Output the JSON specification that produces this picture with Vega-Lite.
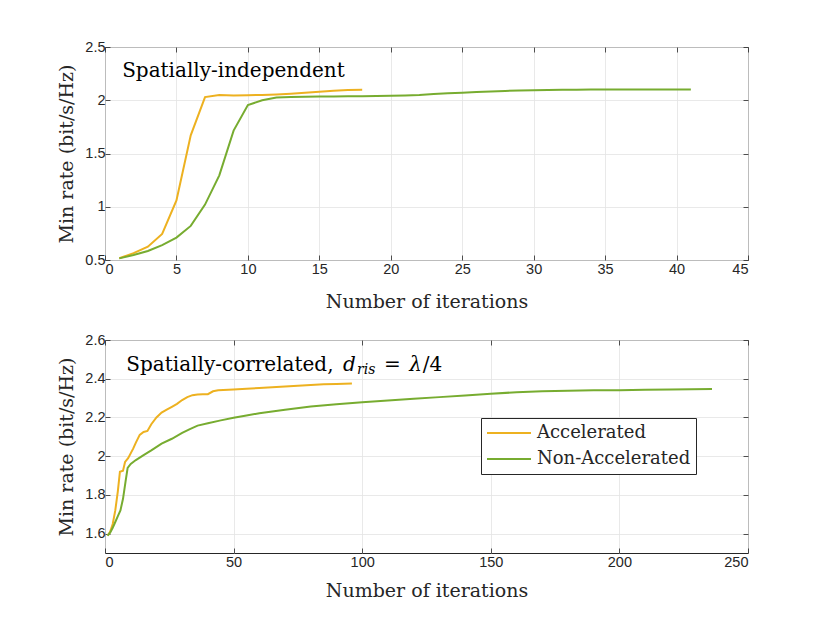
{
  "$schema": "https://vega.github.io/schema/vega-lite/v6.json",
  "background": "white",
  "padding": {"left": 57, "top": 38, "right": 10, "bottom": 10},
  "spacing": 19,
  "config": {
    "view": {"stroke": "#262626", "strokeWidth": 1},
    "axis": {
      "labelFont": "Liberation Sans", "labelFontSize": 14.5, "labelColor": "#262626",
      "labelExpr": "'' + datum.value",
      "titleFont": "DejaVu Serif", "titleFontSize": 19, "titleFontWeight": "normal", "titleColor": "#262626",
      "gridColor": "#e3e3e3", "gridWidth": 0.8, "domain": false,
      "ticks": true, "tickSize": -5, "tickColor": "#262626", "tickWidth": 0.8
    },
    "legend": {
      "labelFont": "DejaVu Serif", "labelFontSize": 18, "labelColor": "#262626"
    }
  },
  "datasets": {
    "top": [
      {"it": 1, "rate": 0.516, "method": "Accelerated"},
      {"it": 2, "rate": 0.565, "method": "Accelerated"},
      {"it": 3, "rate": 0.625, "method": "Accelerated"},
      {"it": 4, "rate": 0.745, "method": "Accelerated"},
      {"it": 5, "rate": 1.06, "method": "Accelerated"},
      {"it": 6, "rate": 1.67, "method": "Accelerated"},
      {"it": 7, "rate": 2.03, "method": "Accelerated"},
      {"it": 8, "rate": 2.05, "method": "Accelerated"},
      {"it": 9, "rate": 2.045, "method": "Accelerated"},
      {"it": 10, "rate": 2.047, "method": "Accelerated"},
      {"it": 11, "rate": 2.05, "method": "Accelerated"},
      {"it": 12, "rate": 2.055, "method": "Accelerated"},
      {"it": 13, "rate": 2.062, "method": "Accelerated"},
      {"it": 14, "rate": 2.07, "method": "Accelerated"},
      {"it": 15, "rate": 2.08, "method": "Accelerated"},
      {"it": 16, "rate": 2.09, "method": "Accelerated"},
      {"it": 17, "rate": 2.097, "method": "Accelerated"},
      {"it": 18, "rate": 2.098, "method": "Accelerated"},
      {"it": 1, "rate": 0.515, "method": "Non-Accelerated"},
      {"it": 2, "rate": 0.547, "method": "Non-Accelerated"},
      {"it": 3, "rate": 0.585, "method": "Non-Accelerated"},
      {"it": 4, "rate": 0.64, "method": "Non-Accelerated"},
      {"it": 5, "rate": 0.71, "method": "Non-Accelerated"},
      {"it": 6, "rate": 0.82, "method": "Non-Accelerated"},
      {"it": 7, "rate": 1.02, "method": "Non-Accelerated"},
      {"it": 8, "rate": 1.295, "method": "Non-Accelerated"},
      {"it": 9, "rate": 1.715, "method": "Non-Accelerated"},
      {"it": 10, "rate": 1.955, "method": "Non-Accelerated"},
      {"it": 11, "rate": 2.0, "method": "Non-Accelerated"},
      {"it": 12, "rate": 2.025, "method": "Non-Accelerated"},
      {"it": 13, "rate": 2.03, "method": "Non-Accelerated"},
      {"it": 14, "rate": 2.033, "method": "Non-Accelerated"},
      {"it": 15, "rate": 2.035, "method": "Non-Accelerated"},
      {"it": 16, "rate": 2.036, "method": "Non-Accelerated"},
      {"it": 17, "rate": 2.037, "method": "Non-Accelerated"},
      {"it": 18, "rate": 2.038, "method": "Non-Accelerated"},
      {"it": 19, "rate": 2.04, "method": "Non-Accelerated"},
      {"it": 20, "rate": 2.042, "method": "Non-Accelerated"},
      {"it": 21, "rate": 2.045, "method": "Non-Accelerated"},
      {"it": 22, "rate": 2.05, "method": "Non-Accelerated"},
      {"it": 23, "rate": 2.058, "method": "Non-Accelerated"},
      {"it": 24, "rate": 2.065, "method": "Non-Accelerated"},
      {"it": 25, "rate": 2.07, "method": "Non-Accelerated"},
      {"it": 26, "rate": 2.077, "method": "Non-Accelerated"},
      {"it": 27, "rate": 2.083, "method": "Non-Accelerated"},
      {"it": 28, "rate": 2.088, "method": "Non-Accelerated"},
      {"it": 29, "rate": 2.092, "method": "Non-Accelerated"},
      {"it": 30, "rate": 2.095, "method": "Non-Accelerated"},
      {"it": 31, "rate": 2.097, "method": "Non-Accelerated"},
      {"it": 32, "rate": 2.098, "method": "Non-Accelerated"},
      {"it": 33, "rate": 2.099, "method": "Non-Accelerated"},
      {"it": 34, "rate": 2.1, "method": "Non-Accelerated"},
      {"it": 35, "rate": 2.1, "method": "Non-Accelerated"},
      {"it": 36, "rate": 2.1, "method": "Non-Accelerated"},
      {"it": 37, "rate": 2.1, "method": "Non-Accelerated"},
      {"it": 38, "rate": 2.1, "method": "Non-Accelerated"},
      {"it": 39, "rate": 2.1, "method": "Non-Accelerated"},
      {"it": 40, "rate": 2.1, "method": "Non-Accelerated"},
      {"it": 41, "rate": 2.1, "method": "Non-Accelerated"}
    ],
    "bottom": [
      {"it": 1, "rate": 1.59, "method": "Accelerated"},
      {"it": 2, "rate": 1.61, "method": "Accelerated"},
      {"it": 3, "rate": 1.65, "method": "Accelerated"},
      {"it": 4, "rate": 1.72, "method": "Accelerated"},
      {"it": 5, "rate": 1.82, "method": "Accelerated"},
      {"it": 5.8, "rate": 1.92, "method": "Accelerated"},
      {"it": 7, "rate": 1.925, "method": "Accelerated"},
      {"it": 7.8, "rate": 1.97, "method": "Accelerated"},
      {"it": 9, "rate": 1.99, "method": "Accelerated"},
      {"it": 11, "rate": 2.04, "method": "Accelerated"},
      {"it": 12, "rate": 2.07, "method": "Accelerated"},
      {"it": 13.5, "rate": 2.11, "method": "Accelerated"},
      {"it": 15, "rate": 2.125, "method": "Accelerated"},
      {"it": 16.5, "rate": 2.13, "method": "Accelerated"},
      {"it": 18, "rate": 2.165, "method": "Accelerated"},
      {"it": 20, "rate": 2.2, "method": "Accelerated"},
      {"it": 22, "rate": 2.225, "method": "Accelerated"},
      {"it": 24, "rate": 2.24, "method": "Accelerated"},
      {"it": 26, "rate": 2.255, "method": "Accelerated"},
      {"it": 28, "rate": 2.27, "method": "Accelerated"},
      {"it": 30, "rate": 2.29, "method": "Accelerated"},
      {"it": 32, "rate": 2.305, "method": "Accelerated"},
      {"it": 34, "rate": 2.315, "method": "Accelerated"},
      {"it": 36, "rate": 2.318, "method": "Accelerated"},
      {"it": 38, "rate": 2.32, "method": "Accelerated"},
      {"it": 40, "rate": 2.32, "method": "Accelerated"},
      {"it": 42, "rate": 2.335, "method": "Accelerated"},
      {"it": 44, "rate": 2.34, "method": "Accelerated"},
      {"it": 50, "rate": 2.344, "method": "Accelerated"},
      {"it": 55, "rate": 2.348, "method": "Accelerated"},
      {"it": 60, "rate": 2.352, "method": "Accelerated"},
      {"it": 65, "rate": 2.356, "method": "Accelerated"},
      {"it": 70, "rate": 2.36, "method": "Accelerated"},
      {"it": 75, "rate": 2.364, "method": "Accelerated"},
      {"it": 80, "rate": 2.368, "method": "Accelerated"},
      {"it": 85, "rate": 2.371, "method": "Accelerated"},
      {"it": 90, "rate": 2.373, "method": "Accelerated"},
      {"it": 96, "rate": 2.375, "method": "Accelerated"},
      {"it": 1, "rate": 1.59, "method": "Non-Accelerated"},
      {"it": 2, "rate": 1.605, "method": "Non-Accelerated"},
      {"it": 3, "rate": 1.63, "method": "Non-Accelerated"},
      {"it": 4, "rate": 1.66, "method": "Non-Accelerated"},
      {"it": 5, "rate": 1.69, "method": "Non-Accelerated"},
      {"it": 6, "rate": 1.72, "method": "Non-Accelerated"},
      {"it": 7, "rate": 1.78, "method": "Non-Accelerated"},
      {"it": 8, "rate": 1.87, "method": "Non-Accelerated"},
      {"it": 8.8, "rate": 1.94, "method": "Non-Accelerated"},
      {"it": 10, "rate": 1.96, "method": "Non-Accelerated"},
      {"it": 12, "rate": 1.98, "method": "Non-Accelerated"},
      {"it": 15, "rate": 2.005, "method": "Non-Accelerated"},
      {"it": 18, "rate": 2.03, "method": "Non-Accelerated"},
      {"it": 22, "rate": 2.065, "method": "Non-Accelerated"},
      {"it": 26, "rate": 2.09, "method": "Non-Accelerated"},
      {"it": 30, "rate": 2.12, "method": "Non-Accelerated"},
      {"it": 33, "rate": 2.14, "method": "Non-Accelerated"},
      {"it": 36, "rate": 2.158, "method": "Non-Accelerated"},
      {"it": 40, "rate": 2.17, "method": "Non-Accelerated"},
      {"it": 45, "rate": 2.185, "method": "Non-Accelerated"},
      {"it": 50, "rate": 2.198, "method": "Non-Accelerated"},
      {"it": 55, "rate": 2.21, "method": "Non-Accelerated"},
      {"it": 60, "rate": 2.222, "method": "Non-Accelerated"},
      {"it": 70, "rate": 2.24, "method": "Non-Accelerated"},
      {"it": 80, "rate": 2.256, "method": "Non-Accelerated"},
      {"it": 90, "rate": 2.268, "method": "Non-Accelerated"},
      {"it": 100, "rate": 2.278, "method": "Non-Accelerated"},
      {"it": 110, "rate": 2.287, "method": "Non-Accelerated"},
      {"it": 120, "rate": 2.296, "method": "Non-Accelerated"},
      {"it": 130, "rate": 2.305, "method": "Non-Accelerated"},
      {"it": 140, "rate": 2.314, "method": "Non-Accelerated"},
      {"it": 150, "rate": 2.323, "method": "Non-Accelerated"},
      {"it": 160, "rate": 2.33, "method": "Non-Accelerated"},
      {"it": 170, "rate": 2.335, "method": "Non-Accelerated"},
      {"it": 180, "rate": 2.338, "method": "Non-Accelerated"},
      {"it": 190, "rate": 2.34, "method": "Non-Accelerated"},
      {"it": 200, "rate": 2.341, "method": "Non-Accelerated"},
      {"it": 210, "rate": 2.343, "method": "Non-Accelerated"},
      {"it": 220, "rate": 2.345, "method": "Non-Accelerated"},
      {"it": 236, "rate": 2.347, "method": "Non-Accelerated"}
    ],
    "topNote": [{"it": 1.2, "rate": 2.22, "t": "Spatially-independent"}],
    "botNote": [
      {"it": 8.3, "rate": 2.442, "t": "Spatially-correlated,", "kind": "roman"},
      {"it": 92.5, "rate": 2.442, "t": "d", "kind": "italic"},
      {"it": 98, "rate": 2.425, "t": "ris", "kind": "sub"},
      {"it": 108.5, "rate": 2.442, "t": "=", "kind": "roman"},
      {"it": 118.3, "rate": 2.442, "t": "λ", "kind": "italic"},
      {"it": 123.5, "rate": 2.442, "t": "/4", "kind": "roman"}
    ]
  },
  "resolve": {"legend": {"color": "independent"}},
  "vconcat": [
    {
      "width": 643,
      "height": 213,
      "layer": [
        {
          "data": {"name": "top"},
          "mark": {"type": "line", "strokeWidth": 2, "clip": true},
          "encoding": {
            "x": {"field": "it", "type": "quantitative", "scale": {"domain": [0, 45], "nice": false},
                  "axis": {"values": [0,5,10,15,20,25,30,35,40,45], "title": "Number of iterations", "labelPadding": 7, "titlePadding": 17}},
            "y": {"field": "rate", "type": "quantitative", "scale": {"domain": [0.5, 2.5], "nice": false, "zero": false},
                  "axis": {"values": [0.5,1,1.5,2,2.5], "title": "Min rate (bit/s/Hz)", "labelPadding": 5, "titlePadding": 8}},
            "color": {"field": "method", "type": "nominal", "legend": null,
                      "scale": {"domain": ["Accelerated", "Non-Accelerated"], "range": ["#EDB120", "#77AC30"]}}
          }
        },
        {
          "data": {"name": "topNote"},
          "mark": {"type": "text", "font": "DejaVu Serif", "fontSize": 20, "align": "left", "baseline": "alphabetic", "color": "#000000"},
          "encoding": {
            "x": {"field": "it", "type": "quantitative", "axis": {"orient": "top", "labels": false, "grid": false, "title": null, "values": [0,5,10,15,20,25,30,35,40,45]}},
            "y": {"field": "rate", "type": "quantitative", "axis": {"orient": "right", "labels": false, "grid": false, "title": null, "values": [0.5,1,1.5,2,2.5]}},
            "text": {"field": "t"}
          }
        }
      ],
      "resolve": {"axis": {"x": "independent", "y": "independent"}}
    },
    {
      "width": 643,
      "height": 213,
      "layer": [
        {
          "data": {"name": "bottom"},
          "mark": {"type": "line", "strokeWidth": 2, "clip": true},
          "encoding": {
            "x": {"field": "it", "type": "quantitative", "scale": {"domain": [0, 250], "nice": false},
                  "axis": {"values": [0,50,100,150,200,250], "title": "Number of iterations", "labelPadding": 7, "titlePadding": 13}},
            "y": {"field": "rate", "type": "quantitative", "scale": {"domain": [1.5, 2.6], "nice": false, "zero": false},
                  "axis": {"values": [1.6,1.8,2,2.2,2.4,2.6], "title": "Min rate (bit/s/Hz)", "labelPadding": 5, "titlePadding": 8}},
            "color": {"field": "method", "type": "nominal",
                      "scale": {"domain": ["Accelerated", "Non-Accelerated"], "range": ["#EDB120", "#77AC30"]},
                      "legend": {"title": null, "orient": "none", "legendX": 376, "legendY": 78,
                                 "symbolType": "stroke", "symbolSize": 1936, "symbolStrokeWidth": 2, "clipHeight": 20,
                                 "fillColor": "white", "strokeColor": "#262626", "padding": 5,
                                 "labelOffset": 5, "rowPadding": 6}}
          }
        },
        {
          "data": {"name": "botNote"},
          "transform": [{"filter": "datum.kind === 'roman'"}],
          "mark": {"type": "text", "font": "DejaVu Serif", "fontSize": 20, "align": "left", "baseline": "alphabetic", "color": "#000000"},
          "encoding": {
            "x": {"field": "it", "type": "quantitative", "axis": {"orient": "top", "labels": false, "grid": false, "title": null, "values": [0,50,100,150,200,250]}},
            "y": {"field": "rate", "type": "quantitative", "axis": {"orient": "right", "labels": false, "grid": false, "title": null, "values": [1.6,1.8,2,2.2,2.4,2.6]}},
            "text": {"field": "t"}
          }
        },
        {
          "data": {"name": "botNote"},
          "transform": [{"filter": "datum.kind === 'italic'"}],
          "mark": {"type": "text", "font": "DejaVu Serif", "fontStyle": "italic", "fontSize": 20, "align": "left", "baseline": "alphabetic", "color": "#000000"},
          "encoding": {
            "x": {"field": "it", "type": "quantitative", "axis": null},
            "y": {"field": "rate", "type": "quantitative", "axis": null},
            "text": {"field": "t"}
          }
        },
        {
          "data": {"name": "botNote"},
          "transform": [{"filter": "datum.kind === 'sub'"}],
          "mark": {"type": "text", "font": "DejaVu Serif", "fontStyle": "italic", "fontSize": 14, "align": "left", "baseline": "alphabetic", "color": "#000000"},
          "encoding": {
            "x": {"field": "it", "type": "quantitative", "axis": null},
            "y": {"field": "rate", "type": "quantitative", "axis": null},
            "text": {"field": "t"}
          }
        }
      ],
      "resolve": {"axis": {"x": "independent", "y": "independent"}}
    }
  ]
}
